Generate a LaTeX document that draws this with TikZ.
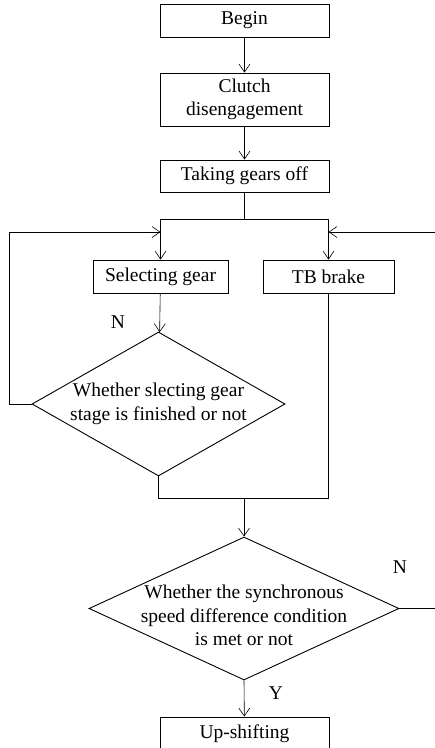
\documentclass[tikz,border=0pt]{standalone}
\usepackage{fontspec}
\setmainfont{Liberation Serif}
\usetikzlibrary{shapes.geometric,arrows.meta}
\tikzset{
  x=1pt, y=-1pt,
  txt/.style={font=\fontsize{19.5}{23.5}\selectfont},
  box/.style={draw, line width=0.9pt, rectangle, inner sep=0pt, txt, align=center},
  dia/.style={draw, line width=0.9pt, diamond, inner sep=0pt, txt, align=center},
  conn/.style={line width=0.6pt},
  arr/.style={conn, -{Straight Barb[length=8pt,width=11pt,line width=0.6pt]}},
  lbl/.style={txt, inner sep=0pt}
}
\begin{document}
\begin{tikzpicture}
\useasboundingbox (0,0) rectangle (435,748);
\clip (0,0) rectangle (435,748);

\node[box, minimum width=169pt, minimum height=33pt] (begin) at (244.5,20.5) {Begin};
\node[box, minimum width=169pt, minimum height=53pt] (clutch) at (244.5,99.5) {Clutch\\disengagement};
\node[box, minimum width=169pt, minimum height=32pt] (take) at (244.5,176) {Taking gears off};
\node[box, minimum width=135pt, minimum height=33pt] (sel) at (160.5,276.5) {Selecting gear};
\node[box, minimum width=131pt, minimum height=33pt] (tb) at (328.5,276.5) {TB brake};
\node[dia, minimum width=253pt, minimum height=144pt] (d1) at (158.5,404)
  {\makebox[0pt]{\begin{tabular}{@{}c@{}}Whether slecting gear\\stage is finished or not\end{tabular}}};
\node[dia, minimum width=310pt, minimum height=143pt] (d2) at (244,608.5)
  {\makebox[0pt]{\raisebox{-14pt}[0pt][0pt]{\begin{tabular}{@{}c@{}}Whether the synchronous\\speed difference condition\\is met or not\end{tabular}}}};
\node[box, minimum width=169pt, minimum height=33pt] (up) at (244.5,733.5) {Up-shifting};

\node[lbl] (nl) at (118,322) {N};
\node[lbl] (nr) at (400,567) {N};
\node[lbl] (y) at (276,693) {Y};

\coordinate (split) at (244.5,219);
\coordinate (splitL) at (160.5,219);
\coordinate (splitR) at (328.5,219);
\coordinate (joinL) at (158.5,498);
\coordinate (joinR) at (328.5,498);
\coordinate (joinM) at (244,498);
\coordinate (loopL1) at (9,404);
\coordinate (loopL2) at (9,232);
\coordinate (inL) at (160.5,232);
\coordinate (loopR1) at (437,608.5);
\coordinate (loopR2) at (437,232);
\coordinate (inR) at (328.5,232);

\draw[arr] (begin) -- (clutch);
\draw[arr] (clutch) -- (take);
\draw[conn] (take) -- (split);
\draw[conn] (splitL) -- (splitR);
\draw[arr] (splitL) -- (sel);
\draw[arr] (splitR) -- (tb);
\draw[arr] (sel) -- (d1);
\draw[arr] (d1.west) -- (loopL1) -- (loopL2) -- (inL);
\draw[conn] (d1.south) -- (joinL) -- (joinR) -- (tb.south);
\draw[arr] (joinM) -- (d2.north);
\draw[arr] (d2.east) -- (loopR1) -- (loopR2) -- (inR);
\draw[arr] (d2.south) -- (up);
\end{tikzpicture}
\end{document}
